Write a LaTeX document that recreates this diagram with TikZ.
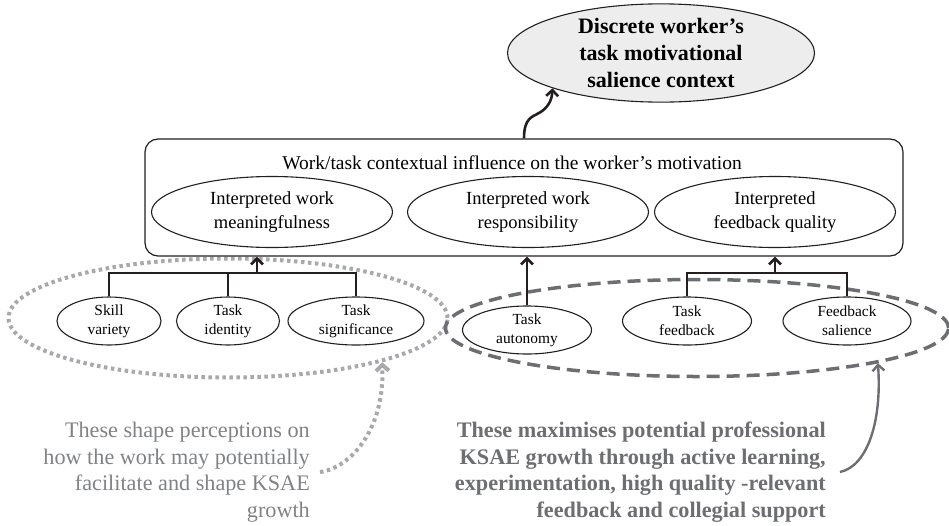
\documentclass[tikz,border=0pt]{standalone}
\usepackage{fontspec}
\setmainfont{Liberation Serif}
\usepackage{xcolor}
\usepackage{tikz}
\usetikzlibrary{calc,arrows.meta,positioning,shapes.geometric}
\definecolor{inkc}{HTML}{231F20}
\definecolor{softbg}{HTML}{EDEDEE}
\definecolor{dotc}{HTML}{A7A9AC}
\definecolor{dashc}{HTML}{6D6E71}
\definecolor{notec}{HTML}{808285}
\tikzset{
  ar/.style={-{Straight Barb[length=6pt,width=12pt]},line width=2.6pt,inkc},
  conn/.style={line width=2.6pt,inkc},
  box/.style={draw=inkc,line width=1.2pt,rounded corners=13pt,minimum width=758pt,minimum height=117pt,inner sep=0pt},
  el/.style={ellipse,draw=inkc,line width=1.1pt,minimum width=241pt,minimum height=71pt,inner sep=0pt,align=center,font=\fontsize{18.5}{24}\selectfont},
  sel/.style={ellipse,draw=inkc,line width=1.1pt,minimum height=48pt,inner sep=0pt,align=center,font=\fontsize{15.4}{19}\selectfont},
  topel/.style={ellipse,draw=inkc,line width=1.1pt,fill=softbg,minimum width=307pt,minimum height=97pt,inner sep=0pt,align=center,font=\fontsize{22}{27}\selectfont\bfseries},
  grpdot/.style={ellipse,draw=dotc,line width=4pt,dash pattern=on 3.5pt off 3.5pt,minimum width=439pt,minimum height=119pt},
  grpdash/.style={ellipse,draw=dashc,line width=3.5pt,dash pattern=on 13pt off 7pt,minimum width=503pt,minimum height=97pt},
  ardot/.style={-{Straight Barb[length=6pt,width=13pt]},line width=4pt,dotc,dash pattern=on 3.5pt off 3.5pt},
  argr/.style={-{Straight Barb[length=6pt,width=12pt]},line width=2.4pt,dashc},
  notea/.style={align=right,text=notec,inner xsep=10pt,inner ysep=0pt,font=\fontsize{22.2}{26.5}\selectfont},
  noteb/.style={align=right,text=dashc,inner xsep=14pt,inner ysep=0pt,font=\fontsize{22.2}{26.5}\selectfont\bfseries}
}
\begin{document}
\begin{tikzpicture}[x=1pt,y=-1pt]
\useasboundingbox (0,0) rectangle (949,525);
\node[grpdot] (grpA) at (228,318) {};
\node[grpdash] (grpB) at (697,328) {};

\node[topel] (ctx) at (661,53) {Discrete worker's\\task motivational\\salience context};
\node[box] (infl) at (524,197.5) {};
\node[font=\fontsize{19.5}{22}\selectfont] (ttl) at (512,163) {Work/task contextual influence on the worker's motivation};
\node[el] (mean) at (272,212) {Interpreted work\\meaningfulness};
\node[el] (resp) at (528,212) {Interpreted work\\responsibility};
\node[el] (fbq) at (775,212) {Interpreted\\feedback quality};

\node[sel,minimum width=104pt] (skv) at (109,321) {Skill\\variety};
\node[sel,minimum width=103pt] (tid) at (228,321) {Task\\identity};
\node[sel,minimum width=136pt] (tsig) at (356,321) {Task\\significance};
\node[sel,minimum width=129pt] (aut) at (527,330) {Task\\autonomy};
\node[sel,minimum width=129pt] (tfb) at (687,321) {Task\\feedback};
\node[sel,minimum width=128pt] (fbs) at (847,321) {Feedback\\salience};

\coordinate (jA) at (257,273);
\coordinate (jC) at (775,273);
\draw[conn] (skv.north) |- (jA) -| (tsig.north);
\draw[conn] (tid.north) -- (tid.north |- jA);
\draw[ar] (jA) -- (jA |- infl.south);
\draw[ar] (aut.north) -- (aut.north |- infl.south);
\draw[conn] (tfb.north) |- (jC) -| (fbs.north);
\draw[ar] (jC) -- (jC |- infl.south);
\draw[ar] (infl.north) .. controls (524,118) and (532,117) .. (539,113) .. controls (548,108) and (552,100) .. (ctx.198);

\node[notea,anchor=east] (noteA) at (320,472) {These shape perceptions on\\how the work may potentially\\facilitate and shape KSAE\\growth};
\node[noteb,anchor=east] (noteB) at (840,472) {These maximises potential professional\\KSAE growth through active learning,\\experimentation, high quality -relevant\\feedback and collegial support};
\draw[ardot] (noteA.east) .. controls (350,468) and (385,430) .. (grpA.-16);
\draw[argr] (noteB.east) .. controls (868,466) and (882,420) .. (grpB.-11);
\end{tikzpicture}
\end{document}
